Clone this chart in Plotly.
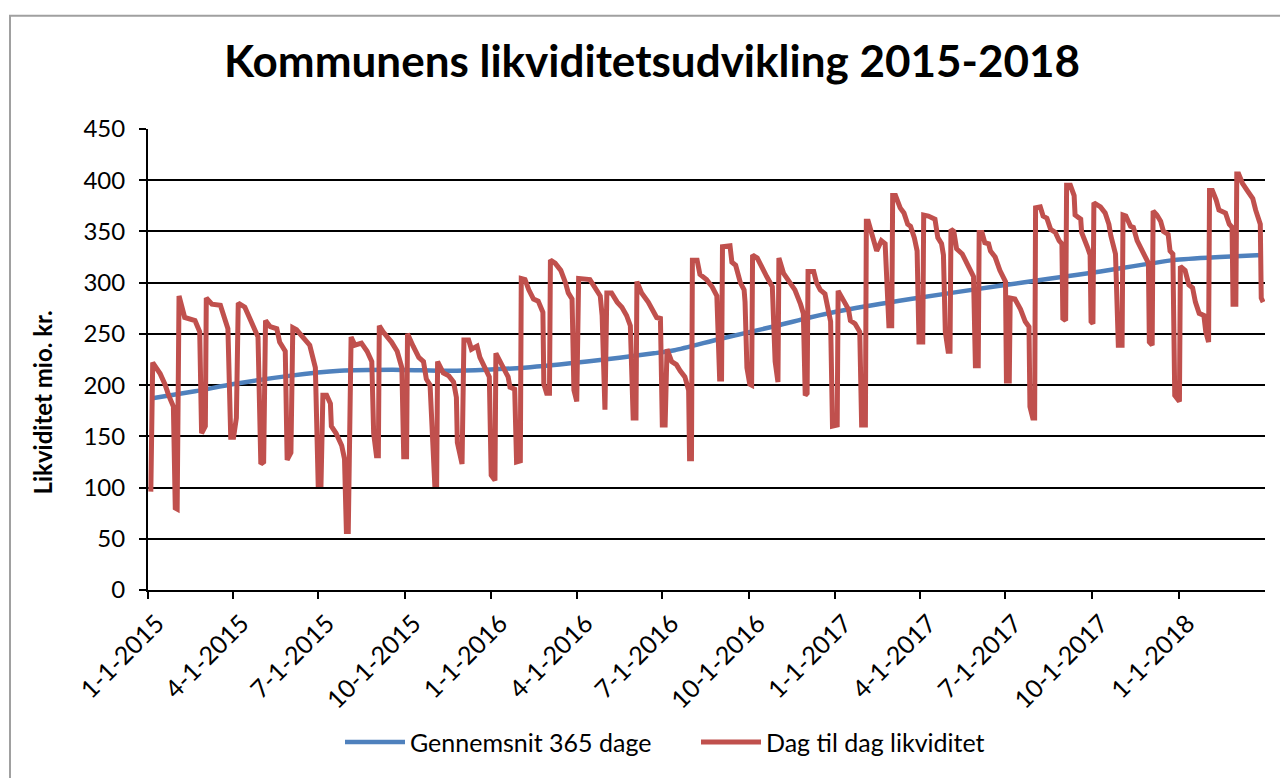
import pandas as pd
import plotly.graph_objects as go

# ---- data ----
start_dato = "2015-01-01"

# day number after 1-1-2015 and daily liquidity (mio. kr.)
dag_nr = [3, 5, 13, 18, 22, 27, 29, 31, 33, 39, 50, 55, 57, 61, 62, 68, 77, 80, 85, 88, 91, 94, 96,
          103, 112, 117, 120, 123, 125, 130, 137, 140, 146, 148, 152, 154, 158, 165, 172, 178, 181,
          184, 186, 190, 194, 195, 200, 206, 209, 211, 213, 216, 220, 227, 233, 238, 240, 243, 245,
          246, 250, 259, 265, 270, 272, 275, 276, 282, 288, 293, 296, 300, 303, 305, 307, 308, 314,
          320, 325, 328, 329, 334, 336, 341, 344, 350, 353, 360, 363, 365, 369, 370, 378, 383, 385,
          390, 392, 396, 397, 401, 405, 410, 415, 420, 421, 424, 427, 428, 433, 439, 444, 447, 451,
          453, 456, 458, 470, 476, 481, 483, 486, 488, 493, 499, 504, 509, 513, 516, 519, 520, 525,
          532, 538, 541, 545, 547, 550, 552, 557, 562, 566, 571, 575, 576, 578, 579, 584, 587, 594,
          600, 605, 608, 610, 611, 619, 621, 625, 630, 634, 635, 637, 640, 642, 643, 648, 653, 658,
          664, 665, 667, 670, 671, 676, 683, 688, 694, 697, 699, 701, 702, 708, 711, 715, 720, 724,
          726, 728, 733, 734, 738, 742, 745, 747, 752, 757, 759, 763, 764, 766, 770, 775, 780, 784,
          788, 791, 792, 795, 800, 804, 808, 811, 815, 818, 820, 824, 825, 830, 837, 840, 844, 846,
          848, 851, 853, 854, 857, 860, 866, 871, 875, 878, 880, 883, 884, 887, 890, 894, 896, 901,
          906, 912, 913, 916, 917, 922, 928, 933, 937, 938, 941, 943, 944, 949, 952, 956, 960, 965,
          969, 972, 973, 976, 977, 981, 985, 986, 992, 993, 999, 1002, 1003, 1005, 1006, 1013, 1018,
          1022, 1024, 1029, 1032, 1036, 1037, 1040, 1045, 1048, 1052, 1059, 1064, 1065, 1068, 1069,
          1073, 1077, 1080, 1085, 1087, 1090, 1092, 1097, 1098, 1103, 1107, 1111, 1114, 1118, 1123,
          1125, 1128, 1129, 1132, 1136, 1139, 1146, 1150, 1153, 1154, 1157, 1158, 1160, 1164, 1169,
          1175, 1178, 1183, 1184, 1186]
dag_til_dag = [96, 222, 211, 201, 190, 179, 80, 79, 287, 266, 263, 252, 153, 160, 285, 279, 278, 268,
               255, 149, 149, 168, 280, 276, 258, 247, 123, 125, 263, 257, 255, 242, 233, 127, 134,
               256, 254, 246, 239, 217, 103, 103, 190, 190, 182, 160, 153, 141, 128, 57, 57, 247, 239,
               241, 233, 223, 153, 131, 131, 258, 252, 242, 233, 217, 130, 130, 250, 238, 227, 223,
               206, 200, 125, 103, 103, 223, 212, 209, 203, 188, 144, 123, 244, 244, 235, 238, 227,
               214, 208, 112, 107, 231, 217, 208, 198, 196, 125, 126, 304, 303, 293, 284, 282, 271,
               201, 192, 192, 322, 319, 312, 300, 290, 284, 195, 184, 304, 303, 295, 287, 268, 176,
               290, 290, 281, 276, 268, 258, 168, 168, 301, 290, 281, 270, 266, 265, 161, 161, 235,
               223, 220, 214, 208, 195, 128, 128, 322, 322, 308, 303, 296, 287, 206, 206, 335, 336,
               320, 317, 300, 293, 281, 217, 201, 200, 327, 324, 314, 306, 296, 277, 223, 203, 324,
               309, 300, 293, 279, 270, 190, 192, 311, 311, 300, 293, 289, 274, 262, 160, 161, 292,
               285, 277, 274, 263, 260, 252, 161, 161, 360, 360, 347, 331, 341, 338, 258, 258, 385,
               385, 373, 368, 357, 355, 344, 331, 242, 242, 366, 365, 362, 344, 338, 327, 252, 233,
               233, 352, 350, 333, 328, 319, 311, 306, 219, 219, 349, 349, 339, 338, 331, 325, 312,
               301, 204, 204, 285, 284, 274, 262, 257, 179, 168, 168, 373, 374, 365, 363, 352, 349,
               341, 338, 265, 263, 395, 395, 385, 366, 362, 349, 335, 327, 262, 260, 378, 374, 368,
               357, 346, 328, 239, 239, 366, 365, 355, 354, 341, 328, 319, 242, 239, 370, 366, 360,
               350, 347, 331, 328, 190, 184, 316, 312, 298, 295, 281, 270, 268, 252, 242, 390, 390,
               381, 371, 368, 357, 354, 279, 279, 406, 406, 397, 390, 382, 371, 357, 285, 281]

# 365-day moving average
snit_dag_nr = [3, 50, 91, 150, 204, 260, 320, 360, 400, 467, 538, 560, 608, 669, 704, 740, 811, 906,
               960, 1013, 1091, 1140, 1185]
gennemsnit = [187, 194, 201, 209, 214, 215, 214, 215, 217, 223, 231, 234, 245, 258, 266, 273, 284,
              297, 304, 311, 322, 325, 327]

tick_datoer = ["2015-01-01", "2015-04-01", "2015-07-01", "2015-10-01", "2016-01-01", "2016-04-01",
               "2016-07-01", "2016-10-01", "2017-01-01", "2017-04-01", "2017-07-01", "2017-10-01",
               "2018-01-01"]
tick_tekst = ["1-1-2015", "4-1-2015", "7-1-2015", "10-1-2015", "1-1-2016", "4-1-2016", "7-1-2016",
              "10-1-2016", "1-1-2017", "4-1-2017", "7-1-2017", "10-1-2017", "1-1-2018"]
x_slut = "2018-04-03"

start = pd.Timestamp(start_dato)
red_x = start + pd.to_timedelta(dag_nr, unit="D")
blue_x = start + pd.to_timedelta(snit_dag_nr, unit="D")

FONT = "Lato"

fig = go.Figure()
fig.add_trace(go.Scatter(x=blue_x, y=gennemsnit, mode="lines", name="Gennemsnit 365 dage",
                         line=dict(color="#4F81BD", width=4.5, shape="spline", smoothing=0.6)))
fig.add_trace(go.Scatter(x=red_x, y=dag_til_dag, mode="lines", name="Dag til dag likviditet",
                         line=dict(color="#C0504D", width=5)))

W, H = 1280, 778
L, R, T, B = 148, 15, 129, 177
pw, ph = W - L - R, H - T - B

def px_x(p):
    return (p - L) / pw

def px_y(p):
    return (H - B - p) / ph

fig.update_layout(
    width=W, height=H,
    margin=dict(l=L, r=R, t=T, b=B),
    paper_bgcolor="white", plot_bgcolor="white",
    font=dict(family=FONT, color="black"),
    title=dict(text="<b>Kommunens likviditetsudvikling 2015-2018</b>",
               font=dict(family=FONT, size=44, color="black"),
               x=px_x(652), xref="paper", xanchor="center",
               y=1 - 62 / H, yref="container", yanchor="middle"),
    showlegend=True,
    legend=dict(orientation="h", x=px_x(340), xanchor="left", y=px_y(757), yanchor="middle",
                font=dict(family=FONT, size=25, color="black"), itemwidth=60,
                entrywidth=281, entrywidthmode="pixels",
                bgcolor="rgba(0,0,0,0)"),
    xaxis=dict(type="date", range=[start_dato, x_slut], tickvals=tick_datoer, ticktext=tick_tekst,
               tickangle=-45, ticks="outside", ticklen=7, tickcolor="black", tickwidth=1.5,
               showline=True, linecolor="black", linewidth=2, showgrid=False, zeroline=False,
               tickfont=dict(family=FONT, size=25, color="black"), ticklabelshift=9),
    yaxis=dict(range=[0, 450], dtick=50, tick0=0, ticks="outside", ticklen=7, tickcolor="black",
               tickwidth=1.5, showline=True, linecolor="black", linewidth=2,
               showgrid=True, gridcolor="black", gridwidth=1.5, zeroline=False,
               tickfont=dict(family=FONT, size=24, color="black"), ticklabelstandoff=9),
    annotations=[dict(text="<b>Likviditet mio. kr.</b>", textangle=-90, x=px_x(42), y=px_y(409),
                      xref="paper", yref="paper", xanchor="center", yanchor="middle",
                      showarrow=False, font=dict(family=FONT, size=24, color="black"))],
    shapes=[dict(type="rect", xref="paper", yref="paper", x0=px_x(10), x1=px_x(1300),
                 y0=px_y(800), y1=px_y(13), line=dict(color="#A0A0A0", width=2),
                 fillcolor="rgba(0,0,0,0)", layer="below")],
)

fig.write_html("out.html", config={"displayModeBar": False},
               post_script="document.body.style.margin='0';")
